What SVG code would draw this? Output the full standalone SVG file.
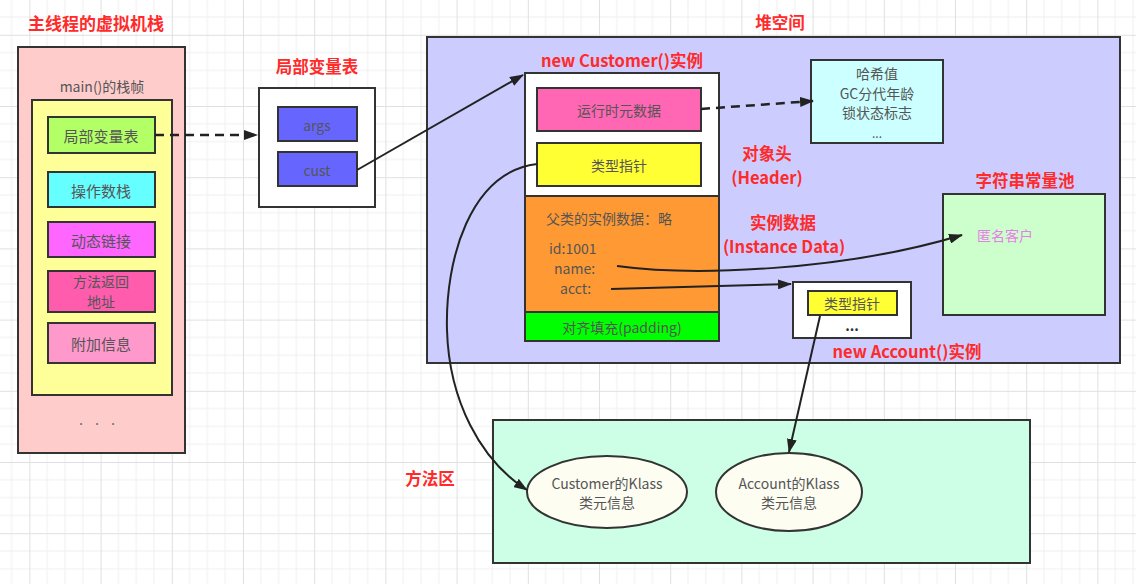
<svg xmlns="http://www.w3.org/2000/svg" width="1136" height="584" viewBox="0 0 1136 584">
<style>
.box{stroke:#333;stroke-width:2}
text{font-family:"Noto Sans CJK SC","Liberation Sans",sans-serif}
.lbl{font-size:14px;fill:#555;text-anchor:middle;dominant-baseline:central}
.lft{font-size:14px;fill:#555;dominant-baseline:central}
.red{font-size:16.5px;fill:#ff2a2a;font-weight:bold;text-anchor:middle;dominant-baseline:central}
.conn{fill:none;stroke:#222;stroke-width:2}
.dash{stroke-dasharray:9 6;stroke-width:2.5}
</style>
<defs>
<pattern id="grid" width="71.2" height="71.2" patternUnits="userSpaceOnUse" x="29.4" y="34.8">
<path d="M17.8 0V71.2M35.6 0V71.2M53.4 0V71.2M0 17.8H71.2M0 35.6H71.2M0 53.4H71.2" stroke="#efefef" stroke-width="1" fill="none"/>
<path d="M0.5 0V71.2M0 0.5H71.2" stroke="#e0e0e0" stroke-width="1" fill="none"/>
</pattern>
<marker id="arr" viewBox="0 0 14 10" refX="13" refY="5" markerWidth="14" markerHeight="10" markerUnits="userSpaceOnUse" orient="auto">
<path d="M0,0 L14,5 L0,10 Z" fill="#222"/>
</marker>
</defs>
<rect width="1136" height="584" fill="#fff"/>
<rect width="1136" height="584" fill="url(#grid)"/>

<g id="stack">
<text class="red" x="96" y="22" style="font-size:17px">主线程的虚拟机栈</text>
<rect class="box" x="18" y="47" width="167" height="406" fill="#ffcccc"/>
<text class="lbl" x="102" y="86">main()的栈帧</text>
<rect class="box" x="32" y="100" width="140" height="295" fill="#ffff99"/>
<text x="81" y="428" fill="#777" font-size="10" text-anchor="middle">•</text>
<text x="97" y="428" fill="#777" font-size="10" text-anchor="middle">•</text>
<text x="113" y="428" fill="#777" font-size="10" text-anchor="middle">•</text>
</g>
<g id="frame-locals">
<rect class="box" x="48" y="117" width="107" height="36" fill="#b3ff66"/>
<text class="lbl" x="101" y="135" style="font-size:15px">局部变量表</text>
</g>
<g id="frame-opstack">
<rect class="box" x="48" y="172" width="107" height="35" fill="#66ffff"/>
<text class="lbl" x="101" y="190" style="font-size:15px">操作数栈</text>
</g>
<g id="frame-dynlink">
<rect class="box" x="48" y="222" width="107" height="35" fill="#ff66ff"/>
<text class="lbl" x="101" y="240" style="font-size:15px">动态链接</text>
</g>
<g id="frame-return">
<rect class="box" x="48" y="271" width="107" height="41" fill="#ff5cae"/>
<text class="lbl" x="101" y="281">方法返回</text>
<text class="lbl" x="101" y="301">地址</text>
</g>
<g id="frame-extra">
<rect class="box" x="48" y="323" width="107" height="40" fill="#ff99cc"/>
<text class="lbl" x="101" y="343" style="font-size:15px">附加信息</text>
</g>

<g id="locals-table">
<text class="red" x="317" y="66">局部变量表</text>
<rect class="box" x="259" y="88" width="116" height="119" fill="#fff"/>
<rect class="box" x="278" y="107" width="79" height="34" fill="#6666ff"/>
<text class="lbl" x="317" y="125">args</text>
<rect class="box" x="278" y="152" width="79" height="34" fill="#6666ff"/>
<text class="lbl" x="317" y="170">cust</text>
</g>

<g id="heap">
<text class="red" x="780" y="22">堆空间</text>
<rect class="box" x="427" y="37" width="693" height="326" fill="#ccccff"/>
<text class="red" x="767" y="153">对象头</text>
<text class="red" x="767" y="177">(Header)</text>
<text class="red" x="783" y="222">实例数据</text>
<text class="red" x="784" y="246">(Instance Data)</text>
</g>

<g id="customer">
<text class="red" x="622" y="60">new Customer()实例</text>
<rect class="box" x="525" y="73" width="194" height="123" fill="#fff"/>
<rect class="box" x="537" y="88" width="164" height="43" fill="#ff66b3"/>
<text class="lbl" x="619" y="110">运行时元数据</text>
<rect class="box" x="537" y="143" width="164" height="43" fill="#ffff33"/>
<text class="lbl" x="619" y="165">类型指针</text>
<rect class="box" x="525" y="196" width="194" height="116" fill="#ff9933"/>
<text class="lft" x="546" y="218">父类的实例数据：略</text>
<text class="lft" x="549" y="248">id:1001</text>
<text class="lft" x="554" y="268">name:</text>
<text class="lft" x="560" y="288">acct:</text>
<rect class="box" x="525" y="312" width="194" height="29" fill="#00ff00"/>
<text class="lbl" x="622" y="327">对齐填充(padding)</text>
</g>

<g id="markword">
<rect class="box" x="811" y="60" width="132" height="83" fill="#ccffff"/>
<text class="lbl" x="877" y="73">哈希值</text>
<text class="lbl" x="877" y="93">GC分代年龄</text>
<text class="lbl" x="877" y="112">锁状态标志</text>
<text class="lbl" x="877" y="132" style="font-size:12px">...</text>
</g>

<g id="string-pool">
<text class="red" x="1025" y="180">字符串常量池</text>
<rect class="box" x="943" y="194" width="162" height="121" fill="#ccffcc"/>
<text class="lft" x="977" y="235" style="fill:#e87de8">匿名客户</text>
</g>

<g id="account">
<rect class="box" x="793" y="282" width="118" height="56" fill="#fff"/>
<rect class="box" x="808" y="291" width="89" height="24" fill="#ffff33"/>
<text class="lbl" x="852" y="303">类型指针</text>
<text class="lbl" x="852" y="325" style="fill:#333;font-weight:bold">...</text>
<text class="red" x="907" y="351">new Account()实例</text>
</g>

<g id="method-area">
<text class="red" x="430" y="478">方法区</text>
<rect class="box" x="493" y="420" width="537" height="143" fill="#ccffe6"/>
</g>
<g id="customer-klass">
<ellipse class="box" cx="607" cy="492" rx="80" ry="36" fill="#fdfdf2"/>
<text class="lbl" x="607" y="483">Customer的Klass</text>
<text class="lbl" x="607" y="502">类元信息</text>
</g>
<g id="account-klass">
<ellipse class="box" cx="789" cy="492" rx="73" ry="39" fill="#fdfdf2"/>
<text class="lbl" x="789" y="483">Account的Klass</text>
<text class="lbl" x="789" y="502">类元信息</text>
</g>

<g id="connectors">
<path class="conn dash" d="M155,135 H257" marker-end="url(#arr)"/>
<path class="conn" d="M357,170 L523,75" marker-end="url(#arr)"/>
<path class="conn dash" d="M701,109 L813,101" marker-end="url(#arr)"/>
<path class="conn" d="M537,164 C470,172 445,260 447,330 C449,400 480,460 527,490" marker-end="url(#arr)"/>
<path class="conn" d="M617,266 C690,276 840,272 962,235" marker-end="url(#arr)"/>
<path class="conn" d="M611,289 L791,284" marker-end="url(#arr)"/>
<path class="conn" d="M820,316 L789,452" marker-end="url(#arr)"/>
</g>
</svg>
